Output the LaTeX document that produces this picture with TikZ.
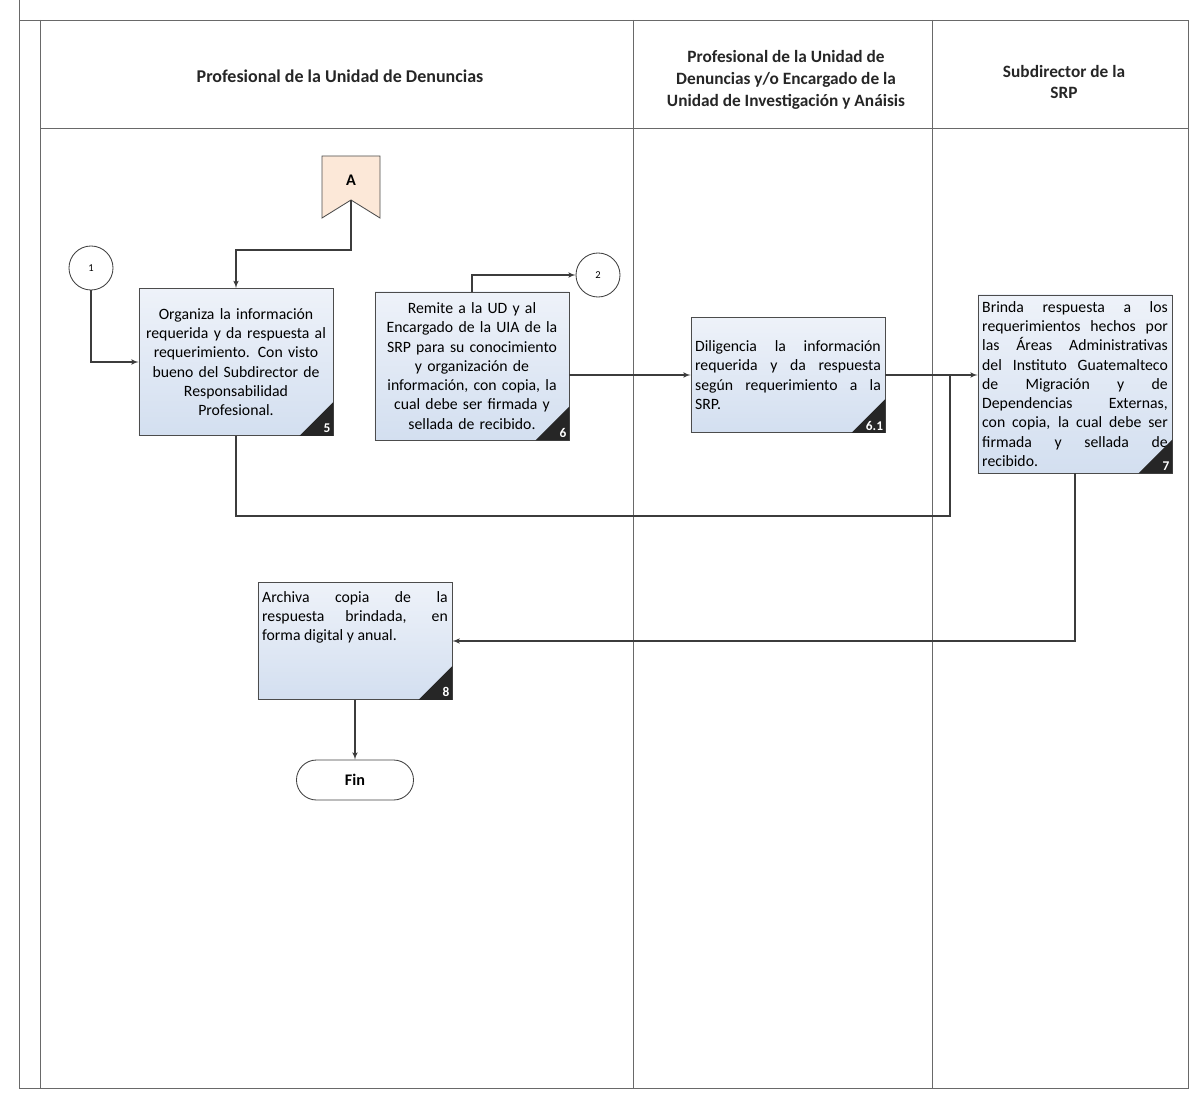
\documentclass[tikz,border=0pt]{standalone}
\usepackage{fontspec}
\setmainfont{Carlito}
\usepackage{tikz}
\usetikzlibrary{arrows}
\usepackage{xcolor}
\definecolor{boxtop}{RGB}{238,242,249}
\definecolor{boxbot}{RGB}{211,223,240}
\definecolor{peach}{RGB}{252,232,216}
\definecolor{lanegray}{RGB}{105,105,105}
\definecolor{wiregray}{RGB}{60,60,60}
\hyphenpenalty=10000
\exhyphenpenalty=10000

\begin{document}
\begin{tikzpicture}[x=0.025cm,y=-0.025cm,>=latex']
\tikzset{
    lane/.style={draw=lanegray, line width=0.6pt},
    head/.style={font=\fontsize{12.3}{15.6}\selectfont\bfseries, align=center, text=black!85},
    act/.style={%
        draw=black!70, line width=0.6pt,
        rectangle,
        top color=boxtop, bottom color=boxbot,
        minimum width=4.85cm,
        font=\fontsize{11.2}{13.7}\selectfont,
        inner xsep=2.5pt, inner ysep=2pt
        },
    actc/.style={act, align=center, text width=132pt},
    actj/.style={act, align=justify, text width=132pt},
    acttxt/.style={font=\fontsize{11.2}{13.7}\selectfont, align=justify, text width=132pt, inner xsep=2.5pt, inner ysep=2pt},
    tag/.style={anchor=south east, text=white, inner sep=2pt, font=\fontsize{9.5}{10}\selectfont\bfseries},
    conn/.style={draw=black!75, line width=0.6pt, circle, minimum size=1.1cm, fill=white, font=\fontsize{7.5}{8}\selectfont},
    offpage/.style={fill=peach, draw=black!70, line width=0.6pt},
    term/.style={draw=black!75, line width=0.6pt, rounded corners=0.5cm, minimum width=2.925cm, minimum height=1cm, font=\fontsize{11.5}{12}\selectfont\bfseries},
    wire/.style={draw=wiregray, line width=0.8pt},
}
\useasboundingbox (0,0) rectangle (1194,1095);
%%%LANES
\draw[lane] (19,0) -- (19,1088) -- (1188,1088) -- (1188,20) -- (19,20);
\draw[lane] (40,20) -- (40,1088);
\draw[lane] (40,128) -- (1188,128);
\draw[lane] (633,20) -- (633,1088);
\draw[lane] (932,20) -- (932,1088);
\node[head, font=\fontsize{12.8}{15.6}\selectfont\bfseries] (h1) at (340,76) {Profesional de la Unidad de Denuncias};
\node[head] (h2) at (786,80) {Profesional de la Unidad de\\Denuncias y/o Encargado de la\\Unidad de Investigación y Anáisis};
\node[head] (h3) at (1064,82) {Subdirector de la\\SRP};
%%%CONNECTORS (off-page and on-page)
\filldraw[offpage] (322,156) -- (380,156) -- (380,218) -- (351,200) -- (322,218) -- cycle;
\node[font=\fontsize{11.5}{12}\selectfont\bfseries] (A) at (351,180) {A};
\coordinate (Atip) at (351,200);
\node[conn] (c1) at (91,268) {1};
\node[conn] (c2) at (598,275) {2};
%%%ACTIVITIES
\node[actc, minimum height=3.675cm] (b5) at (236,362) {Organiza la información\\requerida y da respuesta al\\requerimiento. Con visto\\bueno del Subdirector de\\Responsabilidad\\Profesional.};
\node[actc, minimum height=3.7cm] (b6) at (472,366) {Remite a la UD y al\\Encargado de la UIA de la\\SRP para su conocimiento\\y organización de\\información, con copia, la\\cual debe ser firmada y\\sellada de recibido.};
\node[actj, minimum height=2.875cm] (b61) at (788,375) {Diligencia la información\linebreak requerida y da respuesta\linebreak según requerimiento a la\linebreak SRP.};
\node[actj, minimum height=4.45cm] (b7) at (1075,384) {Brinda respuesta a los\linebreak requerimientos hechos por\linebreak las Áreas Administrativas\linebreak del Instituto Guatemalteco\linebreak de Migración y de\linebreak Dependencias Externas,\linebreak con copia, la cual debe ser\linebreak firmada y sellada de\linebreak recibido.};
\node[act, minimum height=2.925cm] (b8) at (355,641) {};
\node[acttxt, anchor=north] (b8txt) at ([yshift=-0.15cm]b8.north) {Archiva copia de la\linebreak respuesta brindada, en\linebreak forma digital y anual.};
\node[term] (fin) at (355,780) {Fin};
%%%STEP NUMBERS
\fill[black!85] (b5.south east) -- ++(-34,0) -- ++(34,-34) -- cycle;
\node[tag] (t5) at (b5.south east) {5};
\fill[black!85] (b6.south east) -- ++(-34,0) -- ++(34,-34) -- cycle;
\node[tag] (t6) at (b6.south east) {6};
\fill[black!85] (b61.south east) -- ++(-34,0) -- ++(34,-34) -- cycle;
\node[tag, inner sep=1.5pt] (t61) at (b61.south east) {6.1};
\fill[black!85] (b7.south east) -- ++(-34,0) -- ++(34,-34) -- cycle;
\node[tag] (t7) at (b7.south east) {7};
\fill[black!85] (b8.south east) -- ++(-34,0) -- ++(34,-34) -- cycle;
\node[tag] (t8) at (b8.south east) {8};
%%%FLOW
\draw[wire,->] (c1) |- (b5);
\draw[wire,->] (Atip) -- ++(0,50) -| (b5);
\draw[wire,->] (b6) |- (c2);
\draw[wire,->] (b6.east |- b61.west) -- (b61.west);
\draw[wire,->] (b61) -- (b61 -| b7.west);
\coordinate (join) at (950,375);
\draw[wire] (b5.south) -- ++(0,80) -| (join);
\draw[wire,->] (b7) |- (b8);
\draw[wire,->] (b8) -- (fin);
\end{tikzpicture}
\end{document}
